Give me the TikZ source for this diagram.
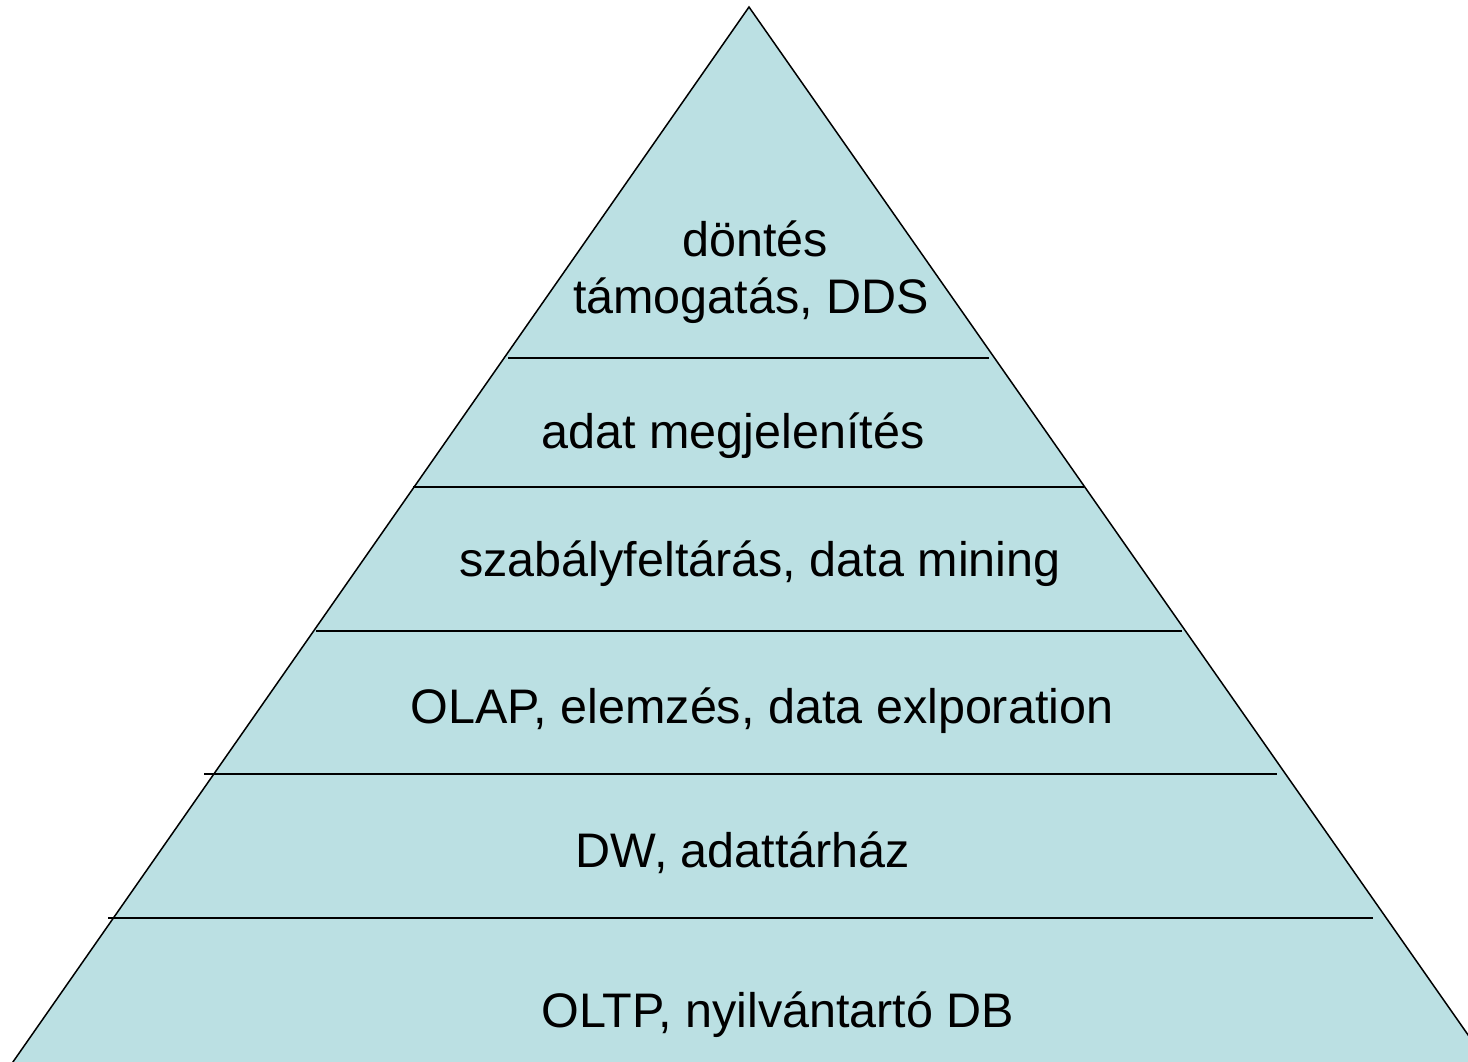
\documentclass[tikz,border=0pt]{standalone}
\usepackage{fontspec}
\setmainfont{Liberation Sans}
\definecolor{pyr}{HTML}{BBE0E3}
\begin{document}
\begin{tikzpicture}[x=1pt,y=-1pt,
  lvl/.style={anchor=base,font=\fontsize{48.5}{56}\selectfont,inner sep=0pt},
  sep/.style={draw=black,line width=1.5pt}]
\useasboundingbox (0,0) rectangle (1468,1062);
\clip (0,0) rectangle (1468,1062);
\coordinate (apex) at (749,7);
\coordinate (bl) at (-8,1092);
\coordinate (br) at (1508,1092);
\fill[pyr] (apex) -- (bl) -- (br) -- cycle;
\draw[line width=1.5pt,line join=miter] (bl) -- (apex) -- (br);
\coordinate (l1) at (508,358); \coordinate (r1) at (989,358);
\coordinate (l2) at (413,487); \coordinate (r2) at (1084,487);
\coordinate (l3) at (316,631); \coordinate (r3) at (1182,631);
\coordinate (l4) at (204,774); \coordinate (r4) at (1277,774);
\coordinate (l5) at (108,918); \coordinate (r5) at (1373,918);
\draw[sep] (l1) -- (r1);
\draw[sep] (l2) -- (r2);
\draw[sep] (l3) -- (r3);
\draw[sep] (l4) -- (r4);
\draw[sep] (l5) -- (r5);
\node[lvl] (t1a) at (755,256) {döntés};
\node[lvl] (t1b) at (751,313) {támogatás, DDS};
\node[lvl] (t2) at (733,448) {adat megjelenítés};
\node[lvl] (t3) at (760,576) {szabályfeltárás, data mining};
\node[lvl] (t4) at (762,723) {OLAP, elemzés, data exlporation};
\node[lvl] (t5) at (743,867) {DW, adattárház};
\node[lvl] (t6) at (778,1027) {OLTP, nyilvántartó DB};
\end{tikzpicture}
\end{document}
